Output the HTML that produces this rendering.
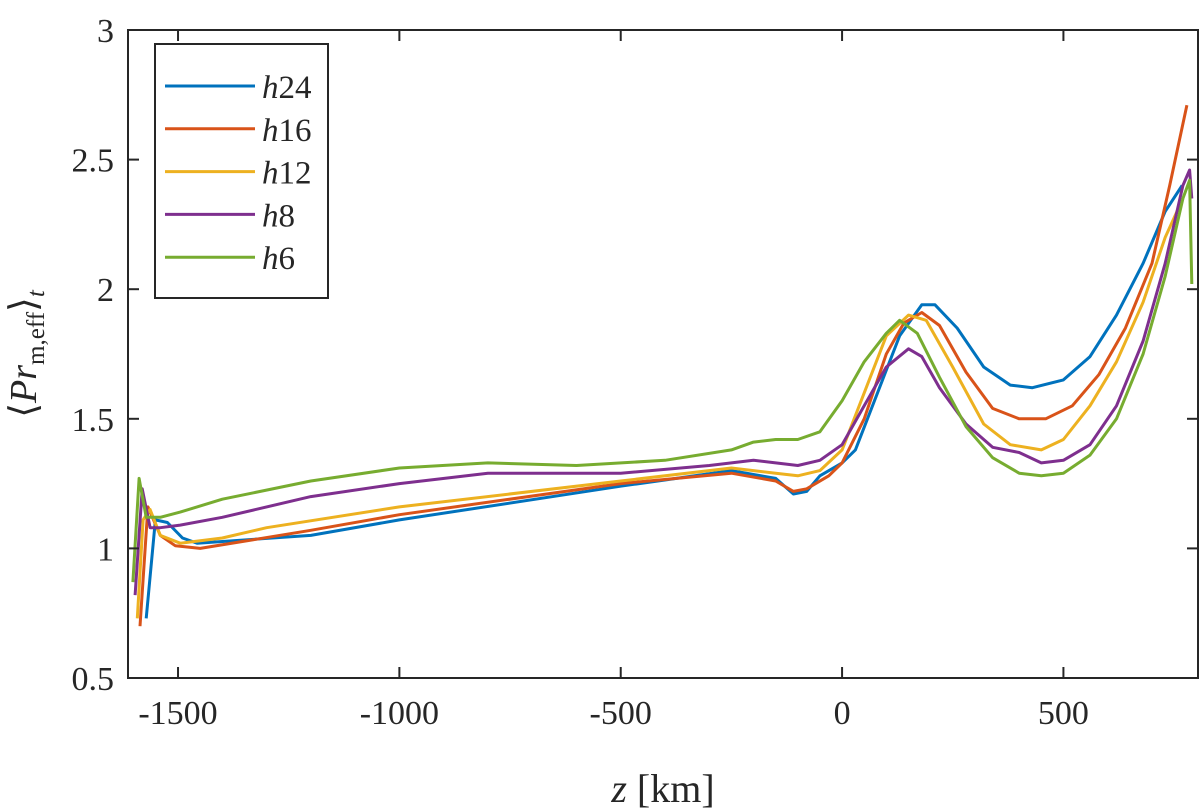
<!DOCTYPE html>
<html><head><meta charset="utf-8"><style>
body{margin:0;background:#fff}
svg{display:block}
text{font-family:"Liberation Serif",serif;fill:#262626}
</style></head><body>
<svg id="chart" width="1200" height="811" viewBox="0 0 1200 811" xmlns="http://www.w3.org/2000/svg">
<rect x="0" y="0" width="1200" height="811" fill="#fff"/>
<g id="plot"></g>
<g id="axes"></g>
<g id="legend"></g>
<text x="663" y="802" font-size="40" text-anchor="middle"><tspan font-style="italic">z</tspan> [km]</text>
<text transform="translate(36,354) rotate(-90)" font-size="38" text-anchor="middle">⟨<tspan font-style="italic">Pr</tspan><tspan font-size="25" dy="8">m,eff</tspan><tspan dy="-8">⟩</tspan><tspan font-size="25" font-style="italic" dy="8">t</tspan></text>
</svg>
<script>
const xTicks=[-1500,-1000,-500,0,500];
const xTickLabels=["-1500","-1000","-500","0","500"];
const yTicks=[0.5,1,1.5,2,2.5,3];
const yTickLabels=["0.5","1","1.5","2","2.5","3"];
const seriesNames=["h24","h16","h12","h8","h6"];
const seriesColors=["#0072BD","#D95319","#EDB120","#7E2F8E","#77AC30"];
const zH24=[-1572,-1551,-1524,-1490,-1457,-1200,-1000,-500,-250,-150,-110,-80,-50,0,30,80,130,180,210,260,320,380,430,500,560,620,680,730,768];
const vH24=[0.73,1.11,1.10,1.04,1.02,1.05,1.11,1.24,1.30,1.27,1.21,1.22,1.28,1.33,1.38,1.60,1.82,1.94,1.94,1.85,1.70,1.63,1.62,1.65,1.74,1.90,2.10,2.30,2.40];
const zH16=[-1586,-1568,-1540,-1506,-1450,-1200,-1000,-500,-250,-150,-110,-80,-30,0,50,100,140,180,220,280,340,400,460,520,580,640,700,740,779];
const vH16=[0.70,1.16,1.05,1.01,1.00,1.07,1.13,1.25,1.29,1.26,1.22,1.23,1.28,1.33,1.50,1.75,1.87,1.91,1.86,1.68,1.54,1.50,1.50,1.55,1.67,1.85,2.10,2.40,2.71];
const zH12=[-1592,-1579,-1563,-1540,-1495,-1400,-1300,-1000,-500,-250,-150,-100,-50,0,50,100,150,190,250,320,380,450,500,560,620,680,730,770];
const vH12=[0.73,1.11,1.15,1.05,1.02,1.04,1.08,1.16,1.26,1.31,1.29,1.28,1.30,1.38,1.60,1.82,1.90,1.88,1.70,1.48,1.40,1.38,1.42,1.55,1.72,1.95,2.20,2.35];
const zH8=[-1597,-1581,-1563,-1540,-1495,-1400,-1200,-1000,-800,-500,-300,-200,-150,-100,-50,0,50,100,150,180,220,280,340,400,450,500,560,620,680,730,770,785,790];
const vH8=[0.82,1.23,1.08,1.08,1.09,1.12,1.20,1.25,1.29,1.29,1.32,1.34,1.33,1.32,1.34,1.40,1.55,1.70,1.77,1.74,1.62,1.48,1.39,1.37,1.33,1.34,1.40,1.55,1.80,2.10,2.40,2.46,2.35];
const zH6=[-1602,-1588,-1572,-1540,-1495,-1400,-1200,-1000,-800,-600,-400,-250,-200,-150,-100,-50,0,50,100,130,170,220,280,340,400,450,500,560,620,680,730,770,785,790];
const vH6=[0.87,1.27,1.12,1.12,1.14,1.19,1.26,1.31,1.33,1.32,1.34,1.38,1.41,1.42,1.42,1.45,1.57,1.72,1.83,1.88,1.83,1.66,1.47,1.35,1.29,1.28,1.29,1.36,1.50,1.75,2.05,2.35,2.42,2.02];
const zSeries=[zH24,zH16,zH12,zH8,zH6];
const vSeries=[vH24,vH16,vH12,vH8,vH6];

const L=128,R=1198,T=30,B=678;
const X0=-1613,X1=804,Y0=0.5,Y1=3;
function sx(z){return L+(z-X0)/(X1-X0)*(R-L);}
function sy(v){return B-(v-Y0)/(Y1-Y0)*(B-T);}
const NS="http://www.w3.org/2000/svg";
function mk(tag,attrs,parent){const e=document.createElementNS(NS,tag);for(const k in attrs)e.setAttribute(k,attrs[k]);parent.appendChild(e);return e;}
const plot=document.getElementById('plot'),axes=document.getElementById('axes'),legend=document.getElementById('legend');
for(let i=0;i<seriesNames.length;i++){
  const d=zSeries[i].map((z,j)=>(j?'L':'M')+sx(z).toFixed(1)+','+sy(vSeries[i][j]).toFixed(1)).join(' ');
  const p=mk('path',{d:d,fill:'none',stroke:seriesColors[i],'stroke-width':3,'stroke-linejoin':'round'},plot);
  
  
}
const box=mk('rect',{x:L,y:T,width:R-L,height:B-T,fill:'none',stroke:'#262626','stroke-width':2},axes);


xTicks.forEach((t,i)=>{
  const x=sx(t);
  mk('line',{x1:x,y1:B,x2:x,y2:B-11,stroke:'#262626','stroke-width':2},axes);
  mk('line',{x1:x,y1:T,x2:x,y2:T+11,stroke:'#262626','stroke-width':2},axes);
  const tx=mk('text',{x:x,y:B+46,'font-size':34,'text-anchor':'middle'},axes);
  tx.textContent=xTickLabels[i];
  
  
});
yTicks.forEach((t,i)=>{
  const y=sy(t);
  mk('line',{x1:L,y1:y,x2:L+11,y2:y,stroke:'#262626','stroke-width':2},axes);
  mk('line',{x1:R,y1:y,x2:R-11,y2:y,stroke:'#262626','stroke-width':2},axes);
  const tx=mk('text',{x:L-14,y:y+12,'font-size':34,'text-anchor':'end'},axes);
  tx.textContent=yTickLabels[i];
  
  
});
const lb=mk('rect',{x:155,y:44,width:173,height:254,fill:'#fff',stroke:'#262626','stroke-width':2},legend);


seriesNames.forEach((n,i)=>{
  const y=86+i*42.8;
  const ln=mk('line',{x1:165,y1:y,x2:255,y2:y,stroke:seriesColors[i],'stroke-width':3},legend);
  
  
  const tx=mk('text',{x:262,y:y+12,'font-size':33},legend);
  tx.innerHTML='<tspan font-style="italic">h</tspan>'+n.slice(1);
  
  
});
</script>
</body></html>
